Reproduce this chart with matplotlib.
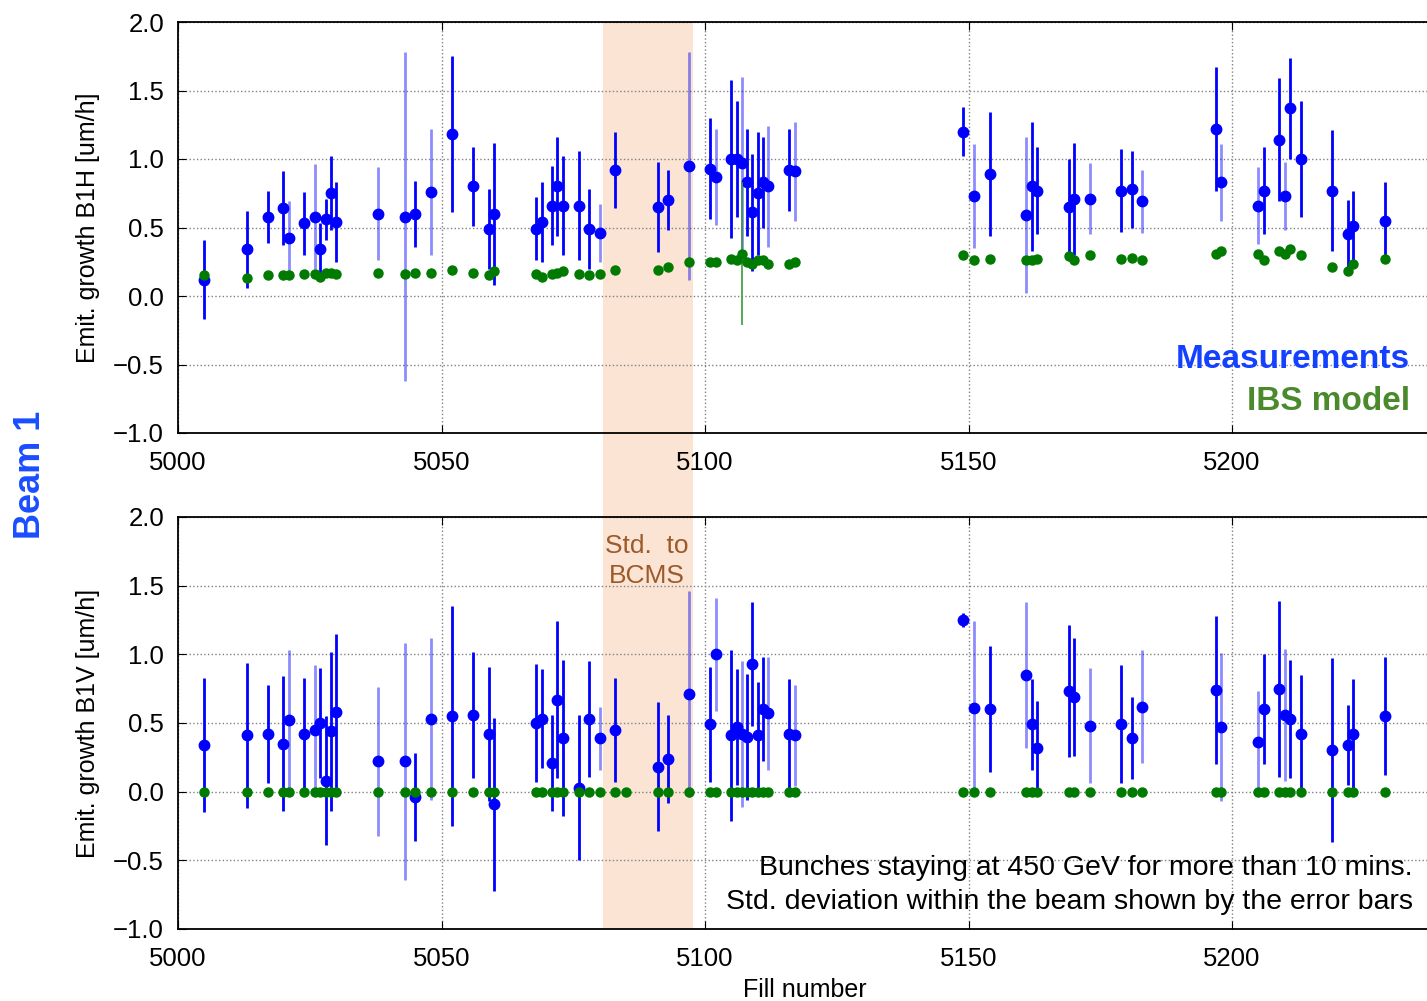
import numpy as np
import matplotlib
matplotlib.use('Agg')
import matplotlib.pyplot as plt
from matplotlib.patches import Rectangle
from matplotlib.transforms import blended_transform_factory

plt.rcParams['font.family'] = ['Liberation Sans', 'DejaVu Sans']

# fill numbers
fills = [5005, 5013, 5017, 5020, 5021, 5024, 5026, 5027, 5028, 5029,
         5030, 5038, 5043, 5045, 5048, 5052, 5056, 5059, 5060, 5068,
         5069, 5071, 5072, 5073, 5076, 5078, 5080, 5083, 5091, 5093,
         5097, 5101, 5102, 5105, 5106, 5107, 5108, 5109, 5110, 5111,
         5112, 5116, 5117, 5149, 5151, 5154, 5161, 5162, 5163, 5169,
         5170, 5173, 5179, 5181, 5183, 5197, 5198, 5205, 5206, 5209,
         5210, 5211, 5213, 5219, 5222, 5223, 5229]

# fills whose error bars are drawn lighter
faint_fills = [5021, 5026, 5038, 5043, 5048, 5080, 5097, 5102, 5107, 5112,
               5117, 5151, 5161, 5173, 5183, 5198, 5205, 5210]

# B1H measured emittance growth [um/h] and std
h_meas = [0.12, 0.34, 0.58, 0.64, 0.42, 0.53, 0.58, 0.34, 0.56, 0.75,
          0.54, 0.60, 0.58, 0.60, 0.76, 1.18, 0.80, 0.49, 0.60, 0.49,
          0.54, 0.66, 0.80, 0.66, 0.66, 0.49, 0.46, 0.92, 0.65, 0.70,
          0.95, 0.93, 0.87, 1.00, 1.00, 0.97, 0.83, 0.61, 0.75, 0.83,
          0.80, 0.92, 0.91, 1.20, 0.73, 0.89, 0.59, 0.80, 0.77, 0.65,
          0.71, 0.71, 0.77, 0.78, 0.69, 1.22, 0.83, 0.66, 0.77, 1.14,
          0.73, 1.37, 1.00, 0.77, 0.45, 0.51, 0.55]
h_err = [0.29, 0.28, 0.19, 0.27, 0.27, 0.23, 0.38, 0.19, 0.15, 0.27,
         0.29, 0.34, 1.20, 0.24, 0.46, 0.57, 0.29, 0.29, 0.52, 0.23,
         0.29, 0.29, 0.36, 0.36, 0.40, 0.29, 0.21, 0.28, 0.33, 0.22,
         0.83, 0.37, 0.35, 0.58, 0.42, 0.63, 0.39, 0.43, 0.45, 0.33,
         0.44, 0.30, 0.36, 0.18, 0.38, 0.45, 0.57, 0.47, 0.32, 0.35,
         0.41, 0.26, 0.30, 0.28, 0.23, 0.45, 0.28, 0.28, 0.32, 0.45,
         0.25, 0.37, 0.42, 0.44, 0.25, 0.26, 0.28]
# B1H IBS model
h_ibs = [0.15, 0.13, 0.15, 0.15, 0.15, 0.16, 0.16, 0.14, 0.17, 0.17,
         0.16, 0.17, 0.16, 0.17, 0.17, 0.19, 0.17, 0.15, 0.18, 0.16,
         0.14, 0.16, 0.17, 0.18, 0.16, 0.15, 0.16, 0.19, 0.19, 0.21,
         0.25, 0.25, 0.25, 0.27, 0.26, 0.31, 0.25, 0.23, 0.26, 0.26,
         0.23, 0.23, 0.25, 0.30, 0.26, 0.27, 0.26, 0.26, 0.27, 0.29,
         0.26, 0.30, 0.27, 0.28, 0.26, 0.31, 0.33, 0.31, 0.26, 0.33,
         0.31, 0.34, 0.30, 0.21, 0.18, 0.23, 0.27]
h_ibs_err_fill = [5107, 5206]
h_ibs_err = [0.52, 0.03]

# B1V measured emittance growth [um/h] and std
v_meas = [0.34, 0.41, 0.42, 0.35, 0.52, 0.42, 0.45, 0.50, 0.08, 0.44,
          0.58, 0.22, 0.22, -0.04, 0.53, 0.55, 0.56, 0.42, -0.09, 0.50,
          0.53, 0.21, 0.67, 0.39, 0.03, 0.53, 0.39, 0.45, 0.18, 0.24,
          0.71, 0.49, 1.00, 0.41, 0.47, 0.42, 0.40, 0.93, 0.41, 0.60,
          0.57, 0.42, 0.41, 1.25, 0.61, 0.60, 0.85, 0.49, 0.32, 0.73,
          0.69, 0.48, 0.49, 0.39, 0.62, 0.74, 0.47, 0.36, 0.60, 0.75,
          0.56, 0.53, 0.42, 0.30, 0.34, 0.42, 0.55]
v_err = [0.49, 0.53, 0.36, 0.49, 0.51, 0.41, 0.47, 0.40, 0.47, 0.58,
         0.57, 0.54, 0.86, 0.32, 0.59, 0.80, 0.46, 0.49, 0.63, 0.43,
         0.36, 0.35, 0.57, 0.57, 0.53, 0.42, 0.23, 0.38, 0.47, 0.32,
         0.75, 0.42, 0.41, 0.62, 0.42, 0.53, 0.46, 0.45, 0.39, 0.38,
         0.41, 0.40, 0.37, 0.05, 0.63, 0.46, 0.53, 0.33, 0.34, 0.48,
         0.43, 0.42, 0.43, 0.30, 0.41, 0.54, 0.54, 0.37, 0.40, 0.64,
         0.48, 0.43, 0.43, 0.67, 0.29, 0.40, 0.43]
# B1V IBS model (zero for every fill, one extra fill without measurement)
v_ibs_fills = fills + [5085]
v_ibs = [0.0] * len(v_ibs_fills)

# BCMS switch period
switch_span = (5080.6, 5097.7)

BLUE = '#0000ff'
GREEN = '#007a00'

W, H = 1427, 1001
fig = plt.figure(figsize=(W / 100, H / 100), dpi=100)
ax1 = fig.add_axes([178 / W, 1 - 433 / H, (W - 178) / W, 411 / H], facecolor='none')
ax2 = fig.add_axes([178 / W, 1 - 929 / H, (W - 178) / W, 412 / H], facecolor='none')

x = np.array(fills)
faint = np.isin(x, faint_fills)


def draw_meas(ax, vals, errs):
    vals = np.array(vals)
    errs = np.array(errs)
    for mask, a in ((~faint, 1.0), (faint, 0.45)):
        ax.errorbar(x[mask], vals[mask], yerr=errs[mask], fmt='none',
                    ecolor=BLUE, elinewidth=2, alpha=a, zorder=2)
    ax.plot(x, vals, 'o', color=BLUE, mec=BLUE, ms=7.5, zorder=3)


draw_meas(ax1, h_meas, h_err)
ibs_err = np.zeros(len(fills))
for f, e in zip(h_ibs_err_fill, h_ibs_err):
    ibs_err[fills.index(f)] = e
ax1.errorbar(x, h_ibs, yerr=ibs_err, fmt='o', color=GREEN, mec=GREEN, ms=6.5,
             elinewidth=1.2, ecolor='#3a9a3a', zorder=4)

draw_meas(ax2, v_meas, v_err)
ax2.plot(v_ibs_fills, v_ibs, 'o', color=GREEN, mec=GREEN, ms=6.5, zorder=4)

for ax in (ax1, ax2):
    ax.set_xlim(5000, 5237)
    ax.set_ylim(-1.0, 2.0)
    ax.set_xticks([5000, 5050, 5100, 5150, 5200])
    ax.set_yticks(np.arange(-1.0, 2.01, 0.5))
    ax.grid(True, linestyle=':', color='0.5', linewidth=1)
    ax.set_axisbelow(True)
    ax.spines['right'].set_visible(False)
    for s in ('left', 'top', 'bottom'):
        ax.spines[s].set_linewidth(1.3)
    ax.tick_params(direction='in', top=True, length=6, labelsize=18.5, pad=13)
    ax.tick_params(axis='y', pad=10)

# shaded band spanning both panels
tr = blended_transform_factory(ax1.transData, fig.transFigure)
fig.add_artist(Rectangle((switch_span[0], 1 - 929 / H), switch_span[1] - switch_span[0],
                         (929 - 22) / H, transform=tr, facecolor='#fbe4d4',
                         edgecolor='none', zorder=-1))

fig.text(88 / W, 1 - 228 / H, 'Emit. growth B1H [um/h]', rotation=90,
         ha='center', va='center', fontsize=18)
fig.text(88 / W, 1 - 723 / H, 'Emit. growth B1V [um/h]', rotation=90,
         ha='center', va='center', fontsize=18)
fig.text(30 / W, 1 - 475 / H, 'Beam 1', rotation=90, ha='center', va='center',
         fontsize=26, fontweight='bold', color='#1a4dff')
fig.text(805 / W, 1 - 990 / H, 'Fill number', ha='center', va='center', fontsize=18)

fig.text(1410 / W, 1 - 360 / H, 'Measurements', ha='right', va='center',
         fontsize=24, fontweight='bold', color='#1440ff')
fig.text(1410 / W, 1 - 402 / H, 'IBS model', ha='right', va='center',
         fontsize=24, fontweight='bold', color='#4b8a2c')

fig.text(647 / W, 1 - 561 / H, 'Std.  to\nBCMS', ha='center', va='center',
         multialignment='center', fontsize=19, color='#9c5a2a', linespacing=1.3)

fig.text(1413 / W, 1 - 885 / H,
         'Bunches staying at 450 GeV for more than 10 mins.\n'
         'Std. deviation within the beam shown by the error bars',
         ha='right', va='center', multialignment='right', fontsize=20.5,
         linespacing=1.4)

fig.savefig('out.png', dpi=100)
